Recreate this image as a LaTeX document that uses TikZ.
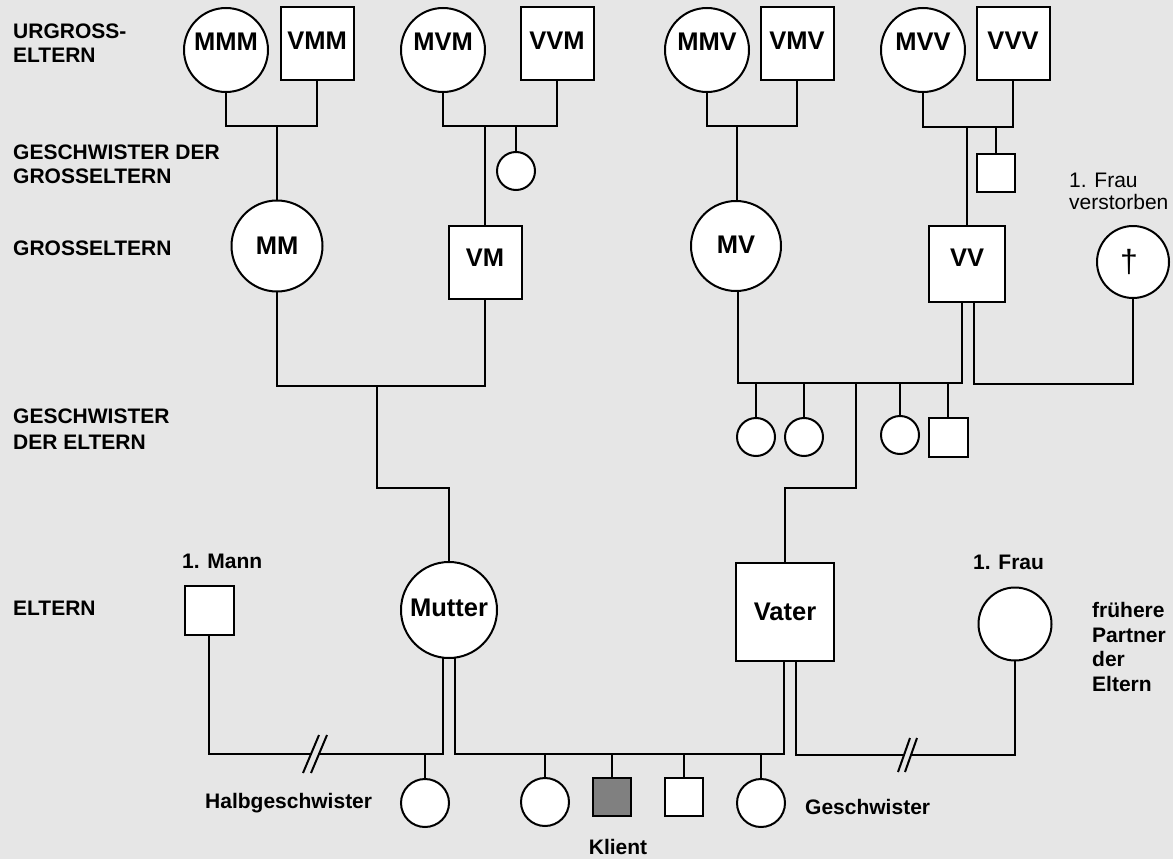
\documentclass[tikz,border=0pt]{standalone}
\usepackage{fontspec}
\setmainfont{Liberation Sans}
\definecolor{bgc}{HTML}{E6E6E6}
\definecolor{klc}{HTML}{808080}
\begin{document}
\begin{tikzpicture}[x=1pt,y=-1pt,
  person/.style={draw=black, line width=2pt, fill=white, inner sep=0pt, outer sep=0pt},
  fem/.style={person, circle, minimum size=#1},
  mal/.style={person, rectangle, minimum width=#1, minimum height=#1},
  nm/.style={font=\fontsize{25.5}{30}\selectfont\bfseries, inner sep=0pt},
  lb/.style={font=\fontsize{21}{25}\selectfont\bfseries, inner sep=0pt, anchor=base west},
  lbr/.style={font=\fontsize{21}{25}\selectfont, inner sep=0pt, anchor=base west},
  conn/.style={draw=black, line width=2pt}]
\fill[bgc] (0,0) rectangle (1173,859);
\useasboundingbox (0,0) rectangle (1173,859);

% ---- left generation labels
\node[lb] (L1a) at (13,39) {URGROSS-};
\node[lb] (L1b) at (13,63) {ELTERN};
\node[lb] (L2a) at (13,159) {GESCHWISTER DER};
\node[lb] (L2b) at (13,183) {GROSSELTERN};
\node[lb] (L3) at (13,255) {GROSSELTERN};
\node[lb] (L4a) at (13,423) {GESCHWISTER};
\node[lb] (L4b) at (13,449) {DER ELTERN};
\node[lb] (L5) at (13,615) {ELTERN};

% ---- great-grandparents
\node[fem=84pt] (MMM) at (226,50) {};
\node[mal=73pt] (VMM) at (317,44) {};
\node[fem=84pt] (MVM) at (443,50) {};
\node[mal=73pt] (VVM) at (557,44) {};
\node[fem=84pt] (MMV) at (707,50) {};
\node[mal=73pt] (VMV) at (797,44) {};
\node[fem=84pt] (MVV) at (923,50) {};
\node[mal=73pt] (VVV) at (1013,44) {};
\node[nm] (tMMM) at ([yshift=8pt]MMM.center) {MMM};
\node[nm] (tVMM) at ([yshift=3pt]VMM.center) {VMM};
\node[nm] (tMVM) at ([yshift=8pt]MVM.center) {MVM};
\node[nm] (tVVM) at ([yshift=3pt]VVM.center) {VVM};
\node[nm] (tMMV) at ([yshift=8pt]MMV.center) {MMV};
\node[nm] (tVMV) at ([yshift=3pt]VMV.center) {VMV};
\node[nm] (tMVV) at ([yshift=8pt]MVV.center) {MVV};
\node[nm] (tVVV) at ([yshift=3pt]VVV.center) {VVV};

% ---- siblings of grandparents
\node[fem=38pt] (gsM) at (516,171) {};
\node[mal=38pt] (gsV) at (996,173) {};

% ---- grandparents
\node[fem=91pt] (MM) at (277,246) {};
\node[mal=73pt] (VM) at (485,262) {};
\node[fem=90pt] (MV) at (736,246) {};
\node[mal=76pt] (VV) at (967,264) {};
\node[fem=72pt] (F1) at (1133,262) {};
\node[nm] (tMM) at (MM.center) {MM};
\node[nm] (tVM) at ([yshift=4pt]VM.center) {VM};
\node[nm] (tMV) at ([yshift=1pt]MV.center) {MV};
\node[nm] (tVV) at ([yshift=6pt]VV.center) {VV};
\node[font=\fontsize{32}{36}\selectfont, inner sep=0pt] (dag) at (1129,262) {†};
\node[lbr] (fv1) at (1069,187) {1. Frau};
\node[lbr] (fv2) at (1069,209) {verstorben};

% ---- siblings of parents
\node[fem=38pt] (s1) at (756,437) {};
\node[fem=38pt] (s2) at (804,437) {};
\node[fem=38pt] (s3) at (900,435) {};
\node[mal=39pt] (s4) at (948,437) {};

% ---- parents
\node[mal=49pt] (Mann1) at (209,610) {};
\node[fem=96pt] (Mutter) at (449,610) {};
\node[mal=98pt] (Vater) at (785,612) {};
\node[fem=73pt] (F2) at (1015,624) {};
\node[nm] (tMutter) at ([yshift=2pt]Mutter.center) {Mutter};
\node[nm] (tVater) at (Vater.center) {Vater};
\node[lb] (tMann1) at (182,568) {1. Mann};
\node[lb] (tF2) at (973,569) {1. Frau};
\node[lb] (fp1) at (1092,617) {frühere};
\node[lb] (fp2) at (1092,642) {Partner};
\node[lb] (fp3) at (1092,666) {der};
\node[lb] (fp4) at (1092,691) {Eltern};

% ---- children
\node[fem=48pt] (h1) at (425,803) {};
\node[fem=48pt] (c1) at (545,802) {};
\node[mal=38pt, fill=klc] (kl) at (612,797) {};
\node[mal=38pt] (c3) at (684,797) {};
\node[fem=48pt] (c4) at (761,803) {};
\node[lb] (tHalb) at (205,808) {Halbgeschwister};
\node[lb] (tGesch) at (805,814) {Geschwister};
\node[lb, anchor=base] (tKlient) at (618,854) {Klient};

% ---- connector coordinates
\coordinate (b1) at (277,126);
\coordinate (b2) at (485,126);
\coordinate (b3) at (737,126);
\coordinate (b4) at (967,127);
\coordinate (b5) at (377,386);
\coordinate (k5) at (449,488);
\coordinate (b6) at (856,383);
\coordinate (k6) at (785,488);
\coordinate (vvL) at (962,383);
\coordinate (b7) at (1133,384);
\coordinate (b8) at (443,754);
\coordinate (brL1) at (311,754);
\coordinate (brL2) at (319,754);
\coordinate (b9) at (455,754);
\coordinate (b10) at (784,754);
\coordinate (brR1) at (904,755);
\coordinate (brR2) at (911,755);

% ---- great-grandparent couples
\draw[conn] (MMM.south) |- (b1) -| (VMM.south);
\draw[conn] (b1) -- (MM.north);
\draw[conn] (MVM.south) |- (b2) -| (VVM.south);
\draw[conn] (b2) -- (VM.north);
\draw[conn] (gsM.north) -- (gsM.north |- b2);
\draw[conn] (MMV.south) |- (b3) -| (VMV.south);
\draw[conn] (b3) -- (b3 |- MV.north);
\draw[conn] (MVV.south) |- (b4) -| (VVV.south);
\draw[conn] (b4) -- (VV.north);
\draw[conn] (gsV.north) -- (gsV.north |- b4);

% ---- grandparent couples
\draw[conn] (MM.south) |- (b5) -| (VM.south);
\draw[conn] (b5) |- (k5) -- (Mutter.north);
\draw[conn] ([xshift=2pt]MV.south) |- (vvL) -- (vvL |- VV.south);
\draw[conn] ([xshift=7pt]VV.south) |- (b7) -- (F1.south);
\draw[conn] (s1.north) -- (s1.north |- b6);
\draw[conn] (s2.north) -- (s2.north |- b6);
\draw[conn] (s3.north) -- (s3.north |- b6);
\draw[conn] (s4.north) -- (s4.north |- b6);
\draw[conn] (b6) |- (k6) -- (Vater.north);

% ---- parents and children
\draw[conn] (Mann1.south) |- (brL1);
\draw[conn] (brL2) -- (b8) -- (b8 |- Mutter.south);
\draw[conn] ([shift={(-8,19)}]brL1) -- ([shift={(8,-19)}]brL1);
\draw[conn] ([shift={(-8,19)}]brL2) -- ([shift={(8,-19)}]brL2);
\draw[conn] (h1.north) -- (h1.north |- b8);
\draw[conn] (b9 |- Mutter.south) -- (b9) -- (b10) -- (b10 |- Vater.south);
\draw[conn] (c1.north) -- (c1.north |- b9);
\draw[conn] (kl.north) -- (kl.north |- b9);
\draw[conn] (c3.north) -- (c3.north |- b9);
\draw[conn] (c4.north) -- (c4.north |- b9);
\draw[conn] ([xshift=11pt]Vater.south) |- (brR1);
\draw[conn] (brR2) -| (F2.south);
\draw[conn] ([shift={(-6,17)}]brR1) -- ([shift={(6,-17)}]brR1);
\draw[conn] ([shift={(-6,17)}]brR2) -- ([shift={(6,-17)}]brR2);
\end{tikzpicture}
\end{document}
